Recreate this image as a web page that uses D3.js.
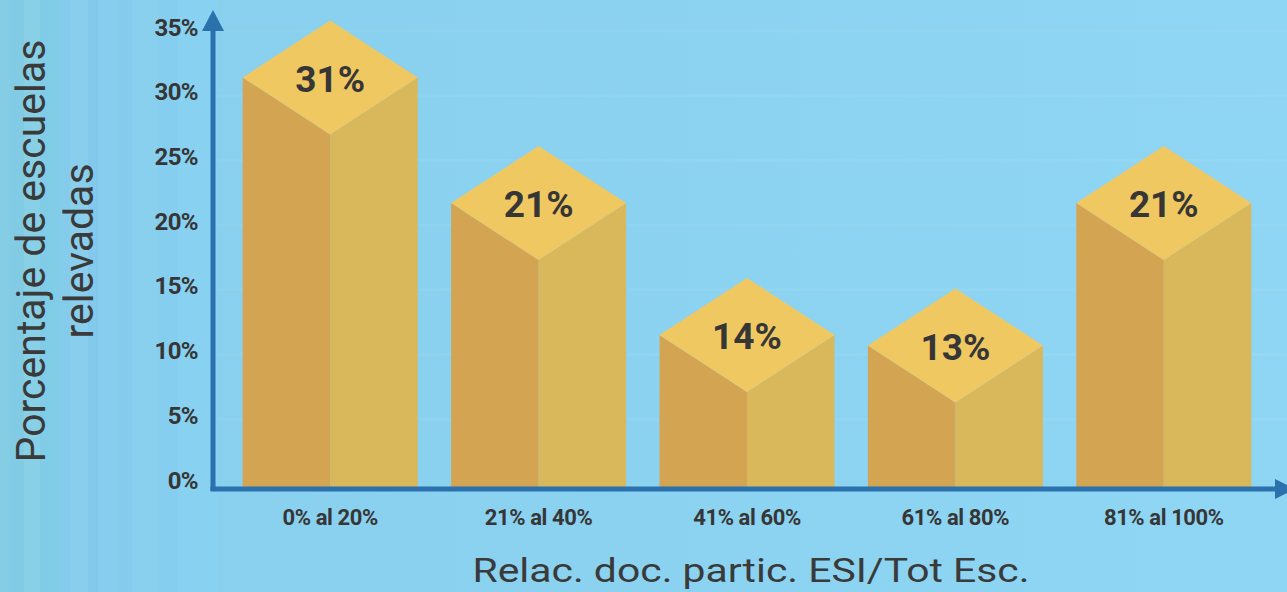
<!DOCTYPE html>
<html>
<head>
<meta charset="utf-8">
<script src="https://cdn.jsdelivr.net/npm/d3@7.9.0/dist/d3.min.js"></script>
<style>
  html, body { margin: 0; padding: 0; background: #8ed5f3; }
  svg { display: block; font-family: Roboto, 'Open Sans', sans-serif; }
</style>
</head>
<body>
<svg id="chart" width="1287" height="592"></svg>
<script>
// categorias del eje x
const categorias = ['0% al 20%', '21% al 40%', '41% al 60%', '61% al 80%', '81% al 100%'];
// porcentaje impreso sobre cada barra
const porcentajes = [31, 21, 14, 13, 21];
// altura de cada barra leida contra el eje y
const alturas = [31.1, 21.4, 11.2, 10.4, 21.4];
const ticksY = [0, 5, 10, 15, 20, 25, 30, 35];

const width = 1287;
const height = 592;
const svg = d3.select('#chart');

// fondo con franjas verticales a la izquierda
let defs = svg.append('defs');
let grad = defs.append('linearGradient').attr('id', 'bg').attr('x1', 0).attr('x2', 1).attr('y1', 0).attr('y2', 0);
grad.append('stop').attr('offset', '0%').attr('stop-color', '#82cbe6');
grad.append('stop').attr('offset', '15%').attr('stop-color', '#88d0ee');
grad.append('stop').attr('offset', '100%').attr('stop-color', '#8fd6f4');
svg.append('rect').attr('width', width).attr('height', height).attr('fill', 'url(#bg)');

const franjas = [
  [0, 10, '#86cfe4'], [10, 14, '#80cbe3'], [24, 16, '#8ad2e6'], [40, 20, '#7fcbe6'],
  [60, 10, '#86c9ec'], [70, 18, '#8ccfee'], [88, 10, '#80c6ec'], [98, 20, '#89cdef'],
  [118, 14, '#84caee'], [132, 26, '#8ad0f0'], [158, 20, '#86cdf0'], [178, 40, '#8bd2f1']
];
svg.selectAll('rect.franja')
  .data(franjas)
  .join('rect')
  .attr('class', 'franja')
  .attr('x', (d) => d[0])
  .attr('width', (d) => d[1])
  .attr('y', 0)
  .attr('height', height)
  .attr('fill', (d) => d[2])
  .attr('opacity', 0.6);

let y = d3.scaleLinear().domain([0, 35]).range([480, 27]);
let x = d3.scaleBand()
  .domain(categorias)
  .range([226, 1268])
  .paddingInner(0.16)
  .paddingOuter(0.08);

const axisX = 213;
const base = y(0) + 9;
const azul = '#2a71ae';
const texto = '#363636';

// lineas de guia muy tenues
svg.selectAll('line.guia')
  .data(ticksY.slice(1))
  .join('line')
  .attr('class', 'guia')
  .attr('x1', axisX + 4)
  .attr('x2', width)
  .attr('y1', (d) => y(d) + 4)
  .attr('y2', (d) => y(d) + 4)
  .attr('stroke', '#ffffff')
  .attr('stroke-opacity', 0.05)
  .attr('stroke-width', 3);

// etiquetas del eje y
svg.selectAll('text.tick')
  .data(ticksY)
  .join('text')
  .attr('class', 'tick')
  .attr('x', 198)
  .attr('y', (d) => y(d))
  .attr('dy', '0.36em')
  .attr('text-anchor', 'end')
  .attr('font-size', 24)
  .attr('font-weight', 700)
  .attr('letter-spacing', -0.6)
  .attr('fill', texto)
  .text((d) => `${d}%`);

// barras 3d: cara izquierda, cara derecha y rombo superior
let barras = svg.selectAll('g.barra')
  .data(categorias.map((c, i) => ({ cat: c, pct: porcentajes[i], alt: alturas[i] })))
  .join('g')
  .attr('class', 'barra');

const medio = 57;
barras.each(function (d) {
  let g = d3.select(this);
  let x0 = x(d.cat);
  let x1 = x0 + x.bandwidth();
  let xc = (x0 + x1) / 2;
  let yt = y(d.alt);
  let izq = [[x0, yt], [xc, yt + medio], [xc, base], [x0, base]];
  let der = [[xc, yt + medio], [x1, yt], [x1, base], [xc, base]];
  let top = [[x0, yt], [xc, yt - medio], [x1, yt], [xc, yt + medio]];
  let line = d3.line();
  g.append('path').attr('d', line(izq) + 'Z').attr('fill', '#d3a552');
  g.append('path').attr('d', line(der) + 'Z').attr('fill', '#d9b85b');
  g.append('path').attr('d', line(top) + 'Z').attr('fill', '#f0c862');
  g.append('text')
    .attr('x', xc)
    .attr('y', yt + 1)
    .attr('dy', '0.36em')
    .attr('text-anchor', 'middle')
    .attr('font-size', 37)
    .attr('font-weight', 700)
    .attr('fill', texto)
    .text(`${d.pct}%`);
});

// ejes con flecha
svg.append('line')
  .attr('x1', axisX).attr('x2', axisX)
  .attr('y1', base + 2).attr('y2', 26)
  .attr('stroke', azul).attr('stroke-width', 5);
svg.append('path')
  .attr('d', d3.line()([[axisX - 11, 31], [axisX, 10], [axisX + 11, 31]]) + 'Z')
  .attr('fill', azul);
svg.append('line')
  .attr('x1', axisX - 2.5).attr('x2', width - 6)
  .attr('y1', base).attr('y2', base)
  .attr('stroke', azul).attr('stroke-width', 5);
svg.append('path')
  .attr('d', d3.line()([[width - 12, base - 10], [width + 8, base], [width - 12, base + 10]]) + 'Z')
  .attr('fill', azul);

// etiquetas de categorias
svg.selectAll('text.cat')
  .data(categorias)
  .join('text')
  .attr('class', 'cat')
  .attr('x', (d) => x(d) + x.bandwidth() / 2)
  .attr('y', 525)
  .attr('text-anchor', 'middle')
  .attr('font-size', 22)
  .attr('font-weight', 700)
  .attr('letter-spacing', -0.4)
  .attr('fill', texto)
  .text((d) => d);

// titulos
svg.append('text')
  .attr('x', 751)
  .attr('y', 582)
  .attr('text-anchor', 'middle')
  .attr('font-size', 34)
  .attr('textLength', 557)
  .attr('lengthAdjust', 'spacingAndGlyphs')
  .attr('fill', '#3a3a3a')
  .text('Relac. doc. partic. ESI/Tot Esc.');

let tituloY = svg.append('text')
  .attr('transform', 'translate(45,251) rotate(-90)')
  .attr('text-anchor', 'middle')
  .attr('font-size', 41)
  .attr('fill', '#3a3a3a');
tituloY.append('tspan').attr('x', 0).attr('y', 0).text('Porcentaje de escuelas');
tituloY.append('tspan').attr('x', 0).attr('y', 48).text('relevadas');
</script>
</body>
</html>
